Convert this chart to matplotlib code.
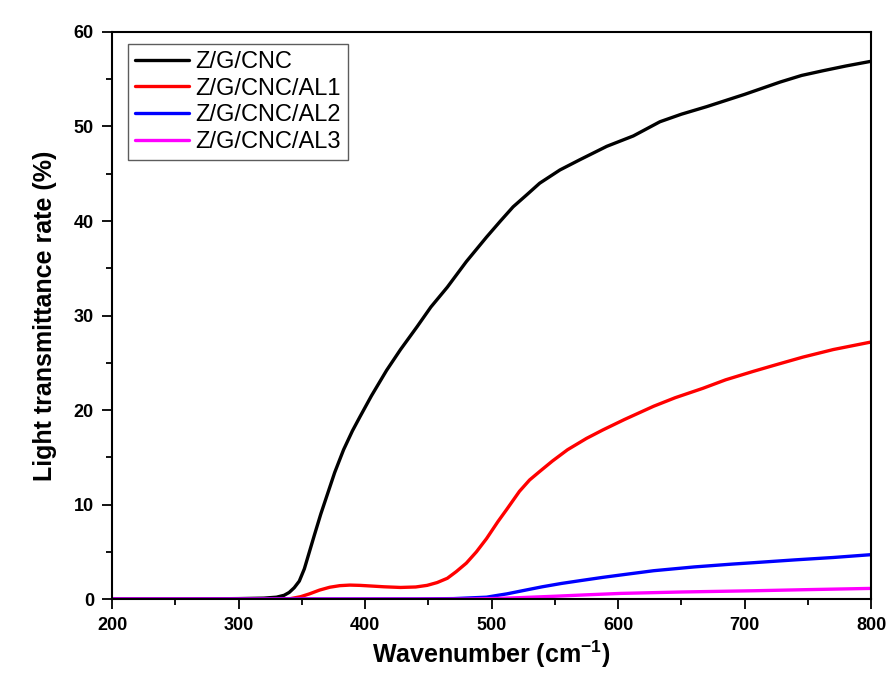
import matplotlib
matplotlib.use("Agg")
import matplotlib.pyplot as plt
from matplotlib.ticker import MultipleLocator

plt.rcParams['font.family'] = ['Liberation Sans', 'DejaVu Sans']
plt.rcParams['mathtext.fontset'] = 'custom'
plt.rcParams['mathtext.rm'] = 'Liberation Sans:bold'
plt.rcParams['mathtext.bf'] = 'Liberation Sans:bold'
plt.rcParams['mathtext.default'] = 'bf'

labels = ["Z/G/CNC", "Z/G/CNC/AL1", "Z/G/CNC/AL2", "Z/G/CNC/AL3"]
colors = ["#000000", "#ff0000", "#0000ff", "#ff00ff"]

x_black = [200, 250, 300, 320, 330, 336, 340, 344, 348, 352, 356, 360, 365, 370, 376, 383, 390, 396,
           405, 417, 428, 441, 452, 465, 480, 496, 507, 517, 528, 538, 554, 570, 591, 612, 633, 650,
           670, 700, 728, 745, 762, 780, 800]
y_black = [0, 0, 0.05, 0.1, 0.2, 0.4, 0.7, 1.2, 1.9, 3.2, 5.0, 6.8, 9.0, 11.0, 13.4, 15.8, 17.8, 19.3,
           21.5, 24.2, 26.4, 28.8, 30.9, 33.0, 35.7, 38.3, 40.0, 41.5, 42.8, 44.0, 45.4, 46.5, 47.9, 49.0,
           50.5, 51.3, 52.1, 53.4, 54.7, 55.4, 55.9, 56.4, 56.9]

x_red = [200, 300, 340, 349, 356, 364, 372, 380, 388, 396, 405, 415, 428, 440, 449, 457, 465, 472,
         480, 488, 496, 505, 512, 522, 530, 538, 548, 560, 575, 588, 605, 628, 645, 667, 685, 707,
         725, 746, 770, 800]
y_red = [0, 0, 0.02, 0.25, 0.55, 0.95, 1.25, 1.42, 1.48, 1.45, 1.38, 1.3, 1.23, 1.28, 1.45, 1.75, 2.2,
         2.9, 3.8, 5.0, 6.4, 8.2, 9.5, 11.4, 12.6, 13.5, 14.6, 15.8, 17.0, 17.9, 19.0, 20.4, 21.3, 22.3,
         23.2, 24.1, 24.8, 25.6, 26.4, 27.2]

x_blue = [200, 440, 470, 496, 505, 512, 525, 540, 555, 570, 588, 605, 628, 660, 690, 707, 740, 770, 800]
y_blue = [0, 0.02, 0.05, 0.2, 0.4, 0.55, 0.9, 1.3, 1.65, 1.95, 2.3, 2.6, 3.0, 3.4, 3.7, 3.85, 4.15, 4.4, 4.7]

x_mag = [200, 480, 500, 522, 550, 575, 602, 650, 707, 750, 800]
y_mag = [0, 0.0, 0.05, 0.15, 0.3, 0.45, 0.6, 0.75, 0.88, 1.0, 1.13]

xticks = [200, 300, 400, 500, 600, 700, 800]
yticks = [0, 10, 20, 30, 40, 50, 60]

fig = plt.figure(figsize=(8.89, 6.80), dpi=100)
ax = fig.add_axes([0.126, 0.119, 0.854, 0.834])

series = [(x_black, y_black), (x_red, y_red), (x_blue, y_blue), (x_mag, y_mag)]
for (xs, ys), lab, c in zip(series, labels, colors):
    ax.plot(xs, ys, color=c, lw=2.4, label=lab, solid_capstyle='round')

ax.set_xlim(200, 800)
ax.set_ylim(0, 60)
ax.set_xticks(xticks)
ax.set_yticks(yticks)
ax.xaxis.set_minor_locator(MultipleLocator(50))
ax.yaxis.set_minor_locator(MultipleLocator(5))
ax.tick_params(which='major', direction='out', length=7, width=1.3, labelsize=13, pad=6)
ax.tick_params(which='minor', direction='out', length=4, width=1.3)
for lab in ax.get_xticklabels() + ax.get_yticklabels():
    lab.set_fontweight('bold')
for sp in ax.spines.values():
    sp.set_linewidth(1.5)

ax.set_xlabel(r"Wavenumber (cm$^{-1}$)", fontsize=18, fontweight='bold', labelpad=3)
ax.set_ylabel("Light transmittance rate (%)", fontsize=18, fontweight='bold', labelpad=12)

leg = ax.legend(loc='upper left', bbox_to_anchor=(0.021, 0.979), fontsize=17, frameon=True,
                fancybox=False, edgecolor='#333333', handlelength=2.3, handletextpad=0.25,
                labelspacing=0.2, borderpad=0.3, borderaxespad=0.0)
leg.get_frame().set_linewidth(1.0)

fig.savefig("out.png", dpi=100)
